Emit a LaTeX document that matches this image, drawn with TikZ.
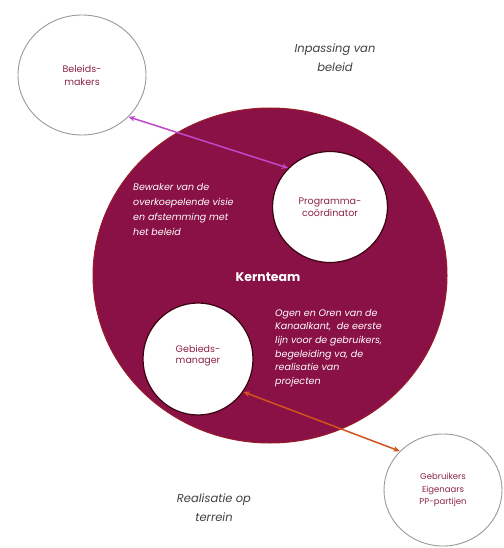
\documentclass[tikz,border=0pt]{standalone}
\usepackage{fontspec}
\setmainfont{Poppins}
\usetikzlibrary{shapes.geometric,arrows.meta}
\definecolor{kern}{HTML}{8A1146}
\definecolor{kernedge}{HTML}{9A1A28}
\definecolor{labelred}{HTML}{8B2545}
\definecolor{pinkarrow}{HTML}{C048C8}
\definecolor{orangearrow}{HTML}{D0541C}
\definecolor{captiongray}{HTML}{404040}
\tikzset{
  outercircle/.style={ellipse, draw=gray!80, line width=0.9pt, fill=white, inner sep=0pt, text=labelred, align=center, font=\fontsize{9.5}{13}\selectfont},
  innercircle/.style={ellipse, draw={rgb,255:red,60;green,0;blue,15}, line width=1.2pt, fill=white, inner sep=0pt, text=labelred, align=center, font=\fontsize{9.5}{12.5}\selectfont},
  whitetext/.style={text=white, align=left, inner sep=0pt, font=\itshape\fontsize{9.5}{15}\selectfont},
  caption/.style={text=captiongray, align=center, inner sep=0pt, font=\itshape\fontsize{11.5}{19}\selectfont},
  linkarrow/.style={line width=1.5pt, {Stealth[length=6.5pt,width=5.5pt]}-{Stealth[length=6.5pt,width=5.5pt]}}
}
\begin{document}
\begin{tikzpicture}[x=1pt,y=-1pt]
\useasboundingbox[fill=white] (0,0) rectangle (503,548);
% big core circle
\node[ellipse, fill=kern, draw=kernedge, line width=1pt, minimum width=354pt, minimum height=335pt, inner sep=0pt] (kt) at (270,275.5) {};
\node[text=white, inner sep=0pt, font=\bfseries\fontsize{12.5}{14}\selectfont] (ktlabel) at (268,277) {Kernteam};
% circles
\node[outercircle, minimum width=128pt, minimum height=120pt] (bm) at (82,75) {Beleids-\\makers};
\node[innercircle, minimum width=115pt, minimum height=111pt] (pc) at (330,207) {Programma-\\coördinator};
\node[innercircle, minimum width=110pt, minimum height=112pt] (gm) at (198,359) {\raisebox{16pt}{\begin{tabular}{@{}c@{}}Gebieds-\\[-1.5pt]manager\end{tabular}}};
\node[outercircle, minimum width=118pt, minimum height=112pt, font=\fontsize{8.5}{12.5}\selectfont] (gb) at (443,490) {Gebruikers\\Eigenaars\\PP-partijen};
% texts
\node[whitetext, anchor=north west] (bw) at (133,183) {Bewaker van de\\overkoepelende visie\\en afstemming met\\het beleid};
\node[whitetext, anchor=north west, font=\itshape\fontsize{9.5}{13.6}\selectfont] (og) at (275,309) {Ogen en Oren van de\\Kanaalkant,\ \ de eerste\\lijn voor de gebruikers,\\begeleiding va, de\\realisatie van\\projecten};
\node[caption] (ip) at (335,58) {Inpassing van\\beleid};
\node[caption] (rt) at (214,508) {Realisatie op\\terrein};
% arrows
\draw[linkarrow, pinkarrow] (bm.-42) -- (pc.137);
\draw[linkarrow, orangearrow] (gm.-36) -- (gb.138);
\end{tikzpicture}
\end{document}
